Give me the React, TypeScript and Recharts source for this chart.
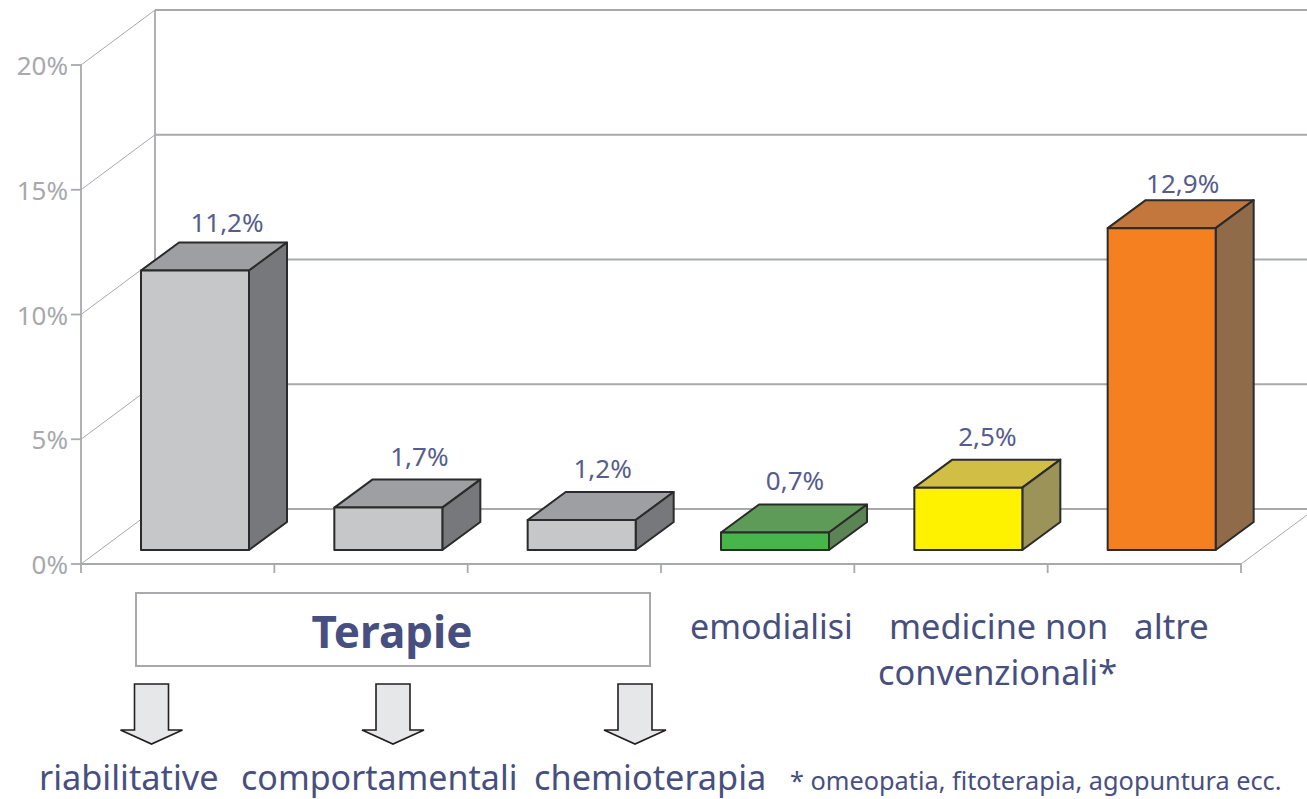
import { BarChart, Bar, XAxis, YAxis, LabelList } from "recharts";

const categories = ["riabilitative", "comportamentali", "chemioterapia", "emodialisi", "medicine non convenzionali*", "altre"];
const values = [11.2, 1.7, 1.2, 0.7, 2.5, 12.9];
const yTicks = [0, 5, 10, 15, 20];

const frontColors = ["#c6c7c9", "#c6c7c9", "#c6c7c9", "#47b549", "#fff200", "#f58020"];
const topColors = ["#9e9fa2", "#9e9fa2", "#9e9fa2", "#5f9b58", "#d1bf45", "#c3773c"];
const sideColors = ["#77787b", "#77787b", "#77787b", "#5b8455", "#9b9358", "#8f6b49"];

// the value labels were nudged by hand in the original, not centred on a rule
const labelNudgeX = [0, -1, -11, -12, -13, -11];
const labelNudgeY = [0, -3, -3, -4, -3, 4];

const data = categories.map((name, i) => ({ name, value: values[i] }));

const W = 1307;
const H = 799;
const GRID = "#a7a9ac";
const TICK_TEXT = "#a7a9ac";
const BLUE = "#474f80";
const FONT = "'Noto Sans', sans-serif";

// fake 3d: wall depth and how far the bars sit in from the front of the floor
const WALL_X = 74;
const WALL_Y = 55;
const BAR_DX = 17;
const BAR_DY = 14;
const DEPTH_X = 38;
const DEPTH_Y = 28;

const margin = { top: 65, right: 66, bottom: 205, left: 0 };

function Bar3D(props: any) {
  const { x, y, width, height, index } = props;
  const l = x + BAR_DX;
  const r = l + width;
  const t = y - BAR_DY;
  const b = t + height;
  const edge = { stroke: "#2b2b2b", strokeWidth: 2, strokeLinejoin: "round" as const };
  return (
    <g>
      <polygon points={`${l},${t} ${l + DEPTH_X},${t - DEPTH_Y} ${r + DEPTH_X},${t - DEPTH_Y} ${r},${t}`} fill={topColors[index]} {...edge} />
      <polygon points={`${r},${t} ${r + DEPTH_X},${t - DEPTH_Y} ${r + DEPTH_X},${b - DEPTH_Y} ${r},${b}`} fill={sideColors[index]} {...edge} />
      <rect x={l} y={t} width={width} height={height} fill={frontColors[index]} {...edge} />
    </g>
  );
}

function BarValue(props: any) {
  const { x, y, width, value, index } = props;
  return (
    <text
      x={x + width / 2 + BAR_DX + 32 + labelNudgeX[index]}
      y={y - BAR_DY - DEPTH_Y - 11 + labelNudgeY[index]}
      textAnchor="middle"
      fontFamily={FONT}
      fontSize={26}
      fill="#565d8c"
    >
      {String(value).replace(".", ",")}%
    </text>
  );
}

function WallTick(props: any) {
  const { x, y, payload } = props;
  const axisX = x + 8;
  return (
    <g>
      <line x1={axisX - 10} x2={axisX} y1={y} y2={y} stroke={GRID} strokeWidth={1.8} />
      <line x1={axisX} y1={y} x2={axisX + WALL_X} y2={y - WALL_Y} stroke={GRID} strokeWidth={1} />
      <line x1={axisX + WALL_X} y1={y - WALL_Y} x2={W} y2={y - WALL_Y} stroke={GRID} strokeWidth={1.8} />
      {payload.value === 20 && (
        <line x1={axisX + WALL_X} x2={axisX + WALL_X} y1={y - WALL_Y} y2={509} stroke={GRID} strokeWidth={1.8} />
      )}
      <text x={axisX - 13} y={y + 10} textAnchor="end" fontFamily={FONT} fontSize={26} fill={TICK_TEXT}>
        {payload.value}%
      </text>
    </g>
  );
}

function EdgeTick(props: any) {
  const { x, y, index } = props;
  const half = (1241 - 81) / categories.length / 2;
  const top = y - 8;
  return (
    <g>
      <line x1={x + half} x2={x + half} y1={top} y2={top + 9} stroke={GRID} strokeWidth={1.8} />
      {index === 0 && <line x1={x - half} x2={x - half} y1={top} y2={top + 9} stroke={GRID} strokeWidth={1.8} />}
      {index === categories.length - 1 && <line x1={x + half} y1={top} x2={x + half + 66} y2={top - 49} stroke={GRID} strokeWidth={1} />}
    </g>
  );
}

function Arrow({ cx }: { cx: number }) {
  return (
    <polygon
      points={`${cx - 17},684 ${cx + 17},684 ${cx + 17},730 ${cx + 31},730 ${cx},744 ${cx - 31},730 ${cx - 17},730`}
      fill="#e6e7e8"
      stroke="#231f20"
      strokeWidth={1.6}
    />
  );
}

export default function App() {
  return (
    <div style={{ position: "absolute", left: 0, top: 0, width: W, height: H, background: "#fff", overflow: "hidden" }}>
      {/* walls and axes go in their own chart so the bars always sit on top of the grid */}
      <BarChart width={W} height={H} data={data} barSize={108} margin={margin}>
        <XAxis dataKey="name" height={30} interval={0} axisLine={{ stroke: GRID, strokeWidth: 1.8 }} tickLine={false} tick={<EdgeTick />} />
        <YAxis width={81} domain={[0, 20]} ticks={yTicks} interval={0} axisLine={{ stroke: GRID, strokeWidth: 1.8 }} tickLine={false} tick={<WallTick />} />
        <Bar dataKey="value" fill="none" shape={() => <g />} isAnimationActive={false} />
      </BarChart>

      <div style={{ position: "absolute", left: 0, top: 0 }}>
        <BarChart width={W} height={H} data={data} barSize={108} margin={margin}>
          <XAxis dataKey="name" height={30} interval={0} axisLine={false} tickLine={false} tick={false} />
          <YAxis width={81} domain={[0, 20]} ticks={yTicks} axisLine={false} tickLine={false} tick={false} />
          <Bar dataKey="value" shape={<Bar3D />} isAnimationActive={false}>
            <LabelList dataKey="value" content={<BarValue />} />
          </Bar>
        </BarChart>
      </div>

      <svg width={W} height={H} style={{ position: "absolute", left: 0, top: 0, pointerEvents: "none" }} fontFamily={FONT} fill={BLUE}>
        <rect x={136} y={593} width={514} height={73} fill="#fff" stroke={GRID} strokeWidth={2} />
        <text x={392} y={648} textAnchor="middle" fontSize={44} fontWeight={700}>Terapie</text>

        <Arrow cx={151.5} />
        <Arrow cx={393} />
        <Arrow cx={635} />

        <g fontSize={34.3}>
          <text x={39} y={790}>{categories[0]}</text>
          <text x={241} y={790} fontSize={34}>{categories[1]}</text>
          <text x={534} y={790}>{categories[2]}</text>
          <text x={690} y={639} fontSize={34}>{categories[3]}</text>
          <text x={889} y={639}>medicine non</text>
          <text x={878} y={685}>convenzionali*</text>
          <text x={1134} y={639} fontSize={35}>{categories[5]}</text>
        </g>
        <text x={790} y={790} fontSize={25.3}>* omeopatia, fitoterapia, agopuntura ecc.</text>
      </svg>
    </div>
  );
}
